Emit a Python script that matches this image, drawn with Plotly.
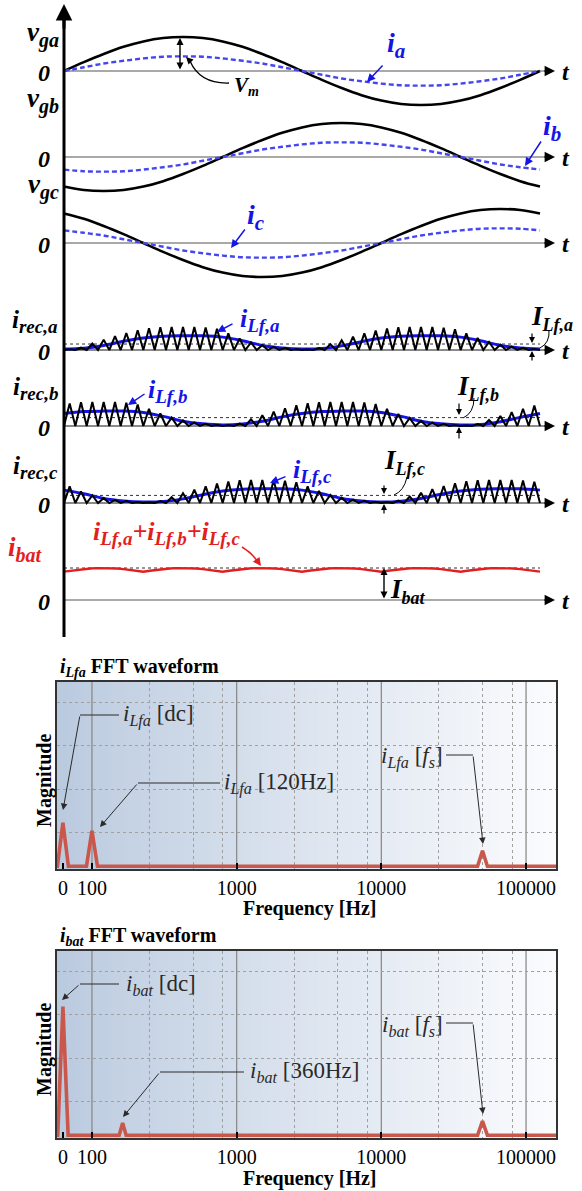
import math
import plotly.graph_objects as go

W, H = 582, 1191
SERIF = "Liberation Serif, Times New Roman, serif"

# ---------------- data ----------------
theta = list(range(0, 361, 15))          # electrical angle, degrees
vga = [0, 0.26, 0.5, 0.71, 0.87, 0.97, 1.0, 0.97, 0.87, 0.71, 0.5, 0.26, 0,
       -0.26, -0.5, -0.71, -0.87, -0.97, -1.0, -0.97, -0.87, -0.71, -0.5, -0.26, 0]
vgb = [-0.87, -0.97, -1.0, -0.97, -0.87, -0.71, -0.5, -0.26, 0, 0.26, 0.5, 0.71, 0.87,
       0.97, 1.0, 0.97, 0.87, 0.71, 0.5, 0.26, 0, -0.26, -0.5, -0.71, -0.87]
vgc = [0.87, 0.71, 0.5, 0.26, 0, -0.26, -0.5, -0.71, -0.87, -0.97, -1.0, -0.97, -0.87,
       -0.71, -0.5, -0.26, 0, 0.26, 0.5, 0.71, 0.87, 0.97, 1.0, 0.97, 0.87]
ia = [0, 0.11, 0.22, 0.30, 0.37, 0.42, 0.43, 0.42, 0.37, 0.30, 0.22, 0.11, 0,
      -0.11, -0.22, -0.30, -0.37, -0.42, -0.43, -0.42, -0.37, -0.30, -0.22, -0.11, 0]
ib = [-0.37, -0.42, -0.43, -0.42, -0.37, -0.30, -0.22, -0.11, 0, 0.11, 0.22, 0.30, 0.37,
      0.42, 0.43, 0.42, 0.37, 0.30, 0.22, 0.11, 0, -0.11, -0.22, -0.30, -0.37]
ic = [0.37, 0.30, 0.22, 0.11, 0, -0.11, -0.22, -0.30, -0.37, -0.42, -0.43, -0.42, -0.37,
      -0.30, -0.22, -0.11, 0, 0.11, 0.22, 0.30, 0.37, 0.42, 0.43, 0.42, 0.37]

# peak of each switching-period triangle of the rectifier currents (42 per line period)
irec_a_pk = [0.03, 0.10, 0.28, 0.45, 0.60, 0.74, 0.86, 0.95, 0.99, 1.0, 1.0, 1.0, 0.98, 0.92,
             0.72, 0.50, 0.33, 0.21, 0.14, 0.08, 0.03,
             0.02, 0.08, 0.25, 0.42, 0.58, 0.72, 0.85, 0.94, 0.99, 1.0, 1.0, 1.0, 0.97, 0.90,
             0.72, 0.52, 0.35, 0.23, 0.15, 0.09, 0.04]
irec_b_pk = [0.94, 0.99, 1.0, 1.0, 1.0, 0.97, 0.90, 0.72, 0.52, 0.35, 0.23, 0.15, 0.09, 0.04,
             0.03, 0.10, 0.28, 0.45, 0.60, 0.74, 0.86, 0.95, 0.99, 1.0, 1.0, 1.0, 0.98, 0.92,
             0.72, 0.50, 0.33, 0.21, 0.14, 0.08, 0.03,
             0.02, 0.08, 0.25, 0.42, 0.58, 0.72, 0.85]
irec_c_pk = [0.72, 0.50, 0.33, 0.21, 0.14, 0.08, 0.03,
             0.02, 0.08, 0.25, 0.42, 0.58, 0.72, 0.85, 0.94, 0.99, 1.0, 1.0, 1.0, 0.97, 0.90,
             0.72, 0.52, 0.35, 0.23, 0.15, 0.09, 0.04,
             0.03, 0.10, 0.28, 0.45, 0.60, 0.74, 0.86, 0.95, 0.99, 1.0, 1.0, 1.0, 0.98, 0.92]

# filtered inductor currents (same angle grid as theta)
ilf_a = [0.04, 0.08, 0.2, 0.38, 0.52, 0.6, 0.62, 0.62, 0.56, 0.4, 0.2, 0.09, 0.04,
         0.06, 0.18, 0.36, 0.52, 0.6, 0.62, 0.62, 0.56, 0.4, 0.2, 0.09, 0.04]
ilf_b = [0.52, 0.6, 0.62, 0.62, 0.56, 0.4, 0.2, 0.09, 0.04, 0.08, 0.2, 0.38, 0.52,
         0.6, 0.62, 0.62, 0.56, 0.4, 0.2, 0.09, 0.04, 0.06, 0.18, 0.36, 0.52]
ilf_c = [0.56, 0.4, 0.2, 0.09, 0.04, 0.06, 0.18, 0.36, 0.52, 0.6, 0.62, 0.62, 0.56,
         0.4, 0.2, 0.09, 0.04, 0.08, 0.2, 0.38, 0.52, 0.6, 0.62, 0.62, 0.56]
ilf_avg = [0.26, 0.35, 0.33]          # I_Lf,a  I_Lf,b  I_Lf,c

ibat_theta = list(range(0, 361, 5))
ibat = [0.885, 0.915, 0.943, 0.966, 0.985, 0.996, 1.0, 0.996, 0.985, 0.966, 0.943, 0.915,
        0.885, 0.915, 0.943, 0.966, 0.985, 0.996, 1.0, 0.996, 0.985, 0.966, 0.943, 0.915,
        0.885, 0.915, 0.943, 0.966, 0.985, 0.996, 1.0, 0.996, 0.985, 0.966, 0.943, 0.915,
        0.885, 0.915, 0.943, 0.966, 0.985, 0.996, 1.0, 0.996, 0.985, 0.966, 0.943, 0.915,
        0.885, 0.915, 0.943, 0.966, 0.985, 0.996, 1.0, 0.996, 0.985, 0.966, 0.943, 0.915,
        0.885, 0.915, 0.943, 0.966, 0.985, 0.996, 1.0, 0.996, 0.985, 0.966, 0.943, 0.915,
        0.885]
ibat_avg = 1.0

# FFT peaks (position on the log axis, normalised magnitude)
fft_lfa_freq = [63, 100, 50000]
fft_lfa_mag = [0.236, 0.193, 0.084]
fft_bat_freq = [63, 163, 50000]
fft_bat_mag = [0.698, 0.066, 0.077]
fft_tickvals = [63, 100, 1000, 10000, 100000]
fft_ticktext = ["0", "100", "1000", "10000", "100000"]
fft_minor_grid = [250, 500, 800, 2500, 5000, 8000, 25000, 50000, 80000]
fft_major_grid = [100, 1000, 10000, 100000]

# ---------------- helpers ----------------
PXDEG = 476 / 360.0          # pixels per electrical degree
X0 = 64                      # pixel x of t = 0


def px(x):
    return x / W


def py(y):
    return 1 - y / H


def yrange(p0, s):
    return [(p0 - H) / s, p0 / s]


def zigzag(peaks, T=360.0):
    d = T / len(peaks)
    xs, ys = [], []
    for k, p in enumerate(peaks):
        xs += [k * d, (k + 0.5) * d]
        ys += [0, p]
    xs.append(T)
    ys.append(0)
    return xs, ys


BLACK = "#000000"
BLUE_D = "#4646f0"
BLUE = "#1414e6"
RED = "#e31e1e"
FFT_RED = "#c9574b"

fig = go.Figure()

panels = {
    "y": (71, 34), "y2": (157, 34), "y3": (243, 34),
    "y4": (350, 23), "y5": (426, 24), "y6": (503, 23), "y7": (600, 32),
}

for ya, v, i in (("y", vga, ia), ("y2", vgb, ib), ("y3", vgc, ic)):
    fig.add_trace(go.Scatter(x=theta, y=v, xaxis="x", yaxis=ya, mode="lines",
                             line=dict(color=BLACK, width=2.6, shape="spline")))
    fig.add_trace(go.Scatter(x=theta, y=i, xaxis="x", yaxis=ya, mode="lines",
                             line=dict(color=BLUE_D, width=2.4, shape="spline", dash="5px,3px")))

for ya, pk, lf, lvl in (("y4", irec_a_pk, ilf_a, ilf_avg[0]),
                        ("y5", irec_b_pk, ilf_b, ilf_avg[1]),
                        ("y6", irec_c_pk, ilf_c, ilf_avg[2])):
    fig.add_trace(go.Scatter(x=[0, 360], y=[lvl, lvl], xaxis="x", yaxis=ya, mode="lines",
                             line=dict(color="#333333", width=1, dash="dot")))
    fig.add_trace(go.Scatter(x=theta, y=lf, xaxis="x", yaxis=ya, mode="lines",
                             line=dict(color=BLUE, width=3, shape="spline")))
    zx, zy = zigzag(pk)
    fig.add_trace(go.Scatter(x=zx, y=zy, xaxis="x", yaxis=ya, mode="lines",
                             line=dict(color=BLACK, width=2)))

fig.add_trace(go.Scatter(x=[0, 360], y=[ibat_avg, ibat_avg], xaxis="x", yaxis="y7", mode="lines",
                         line=dict(color="#333333", width=1, dash="dot")))
fig.add_trace(go.Scatter(x=ibat_theta, y=ibat, xaxis="x", yaxis="y7", mode="lines",
                         line=dict(color=RED, width=2.4)))


def spectrum(freqs, mags, halfw):
    xs, ys = [10 ** 1.70], [0]
    for f, m, w in zip(freqs, mags, halfw):
        xs += [f * 10 ** (-w), f, f * 10 ** w]
        ys += [0, m, 0]
    xs.append(10 ** 5.3)
    ys.append(0)
    return xs, ys


sx, sy = spectrum(fft_lfa_freq, fft_lfa_mag, [0.038, 0.038, 0.034])
fig.add_trace(go.Scatter(x=sx, y=sy, xaxis="x2", yaxis="y8", mode="lines",
                         line=dict(color=FFT_RED, width=3.6)))
sx, sy = spectrum(fft_bat_freq, fft_bat_mag, [0.036, 0.024, 0.034])
fig.add_trace(go.Scatter(x=sx, y=sy, xaxis="x3", yaxis="y9", mode="lines",
                         line=dict(color=FFT_RED, width=3.6)))

# ---------------- layout ----------------
layout = dict(
    width=W, height=H, autosize=False,
    margin=dict(l=0, r=0, t=0, b=0),
    paper_bgcolor="white", plot_bgcolor="rgba(0,0,0,0)",
    showlegend=False,
    xaxis=dict(domain=[0, 1], range=[-X0 / PXDEG, (W - X0) / PXDEG], visible=False, fixedrange=True),
)
for ya, (p0, s) in panels.items():
    key = "yaxis" if ya == "y" else "yaxis" + ya[1:]
    d = dict(range=yrange(p0, s), visible=False, anchor="x", fixedrange=True)
    if ya != "y":
        d["overlaying"] = "y"
    layout[key] = d

LOG_RANGE = [1.755, 5.207]
fft_boxes = {"2": ("8", 682, 869), "3": ("9", 951, 1138)}
for xi, (yi, top, bot) in fft_boxes.items():
    layout["xaxis" + xi] = dict(
        type="log", domain=[px(56.5), px(556)], range=LOG_RANGE, anchor="y" + yi,
        tickvals=fft_tickvals, ticktext=fft_ticktext, ticks="inside", ticklen=6,
        tickwidth=2, tickcolor="black", showgrid=False, zeroline=False,
        tickfont=dict(family=SERIF, size=20, color="black"),
        showline=True, mirror=True, linecolor="#333333", linewidth=2,
        minor=dict(tickvals=fft_minor_grid, showgrid=True, gridcolor="#a0a0a0",
                   griddash="dot", gridwidth=1, ticks=""),
        fixedrange=True,
    )
    layout["yaxis" + yi] = dict(
        domain=[py(bot), py(top)], range=[-0.015, 1.0], anchor="x" + xi,
        tickvals=[0.184, 0.419, 0.654, 0.889], showticklabels=False, ticks="",
        showgrid=True, gridcolor="#a0a0a0", griddash="dot", gridwidth=1,
        zeroline=False, showline=True, mirror=True, linecolor="#333333", linewidth=2,
        fixedrange=True,
    )

shapes = []
annotations = []

C0 = (186, 202, 223)
C1 = (251, 252, 254)
NSTRIP = 90
for xi, (yi, top, bot) in fft_boxes.items():
    for k in range(NSTRIP):
        t = ((k + 0.5) / NSTRIP) ** 0.9
        col = "rgb(%d,%d,%d)" % tuple(int(C0[j] + (C1[j] - C0[j]) * t) for j in range(3))
        shapes.append(dict(type="rect", xref="x%s domain" % xi, yref="y%s domain" % yi,
                           x0=k / NSTRIP, x1=(k + 1) / NSTRIP + 0.003, y0=0, y1=1,
                           fillcolor=col, line=dict(width=0), layer="below"))
    for f in fft_major_grid:
        fr = (math.log10(f) - LOG_RANGE[0]) / (LOG_RANGE[1] - LOG_RANGE[0])
        shapes.append(dict(type="line", xref="x%s domain" % xi, yref="y%s domain" % yi,
                           x0=fr, x1=fr, y0=0, y1=1, line=dict(color="#8c8c8c", width=1.3),
                           layer="below"))


def line(x0, y0, x1, y1, color="black", width=1, dash=None, layer="above"):
    ln = dict(color=color, width=width)
    if dash:
        ln["dash"] = dash
    shapes.append(dict(type="line", xref="paper", yref="paper", x0=px(x0), y0=py(y0),
                       x1=px(x1), y1=py(y1), line=ln, layer=layer))


def curve(x0, y0, cx, cy, x1, y1, color="black", width=1):
    path = "M %f,%f Q %f,%f %f,%f" % (px(x0), py(y0), px(cx), py(cy), px(x1), py(y1))
    shapes.append(dict(type="path", xref="paper", yref="paper", path=path,
                       line=dict(color=color, width=width)))


def arrow(x0, y0, x1, y1, color="black", width=1.2, head=2, size=1.0, side="end"):
    annotations.append(dict(x=px(x1), y=py(y1), xref="paper", yref="paper",
                            ax=x0 - x1, ay=y0 - y1, axref="pixel", ayref="pixel",
                            text="", showarrow=True, arrowhead=head, arrowsize=size,
                            arrowwidth=width, arrowcolor=color, arrowside=side,
                            standoff=0, startstandoff=0))


def text(x, y, s, size=22, color="black", xanchor="center", yanchor="middle", angle=0):
    annotations.append(dict(x=px(x), y=py(y), xref="paper", yref="paper", text=s,
                            showarrow=False, xanchor=xanchor, yanchor=yanchor,
                            textangle=angle,
                            font=dict(family=SERIF, size=size, color=color)))


def bi(main, sub=None, subsize=19):
    s = "<b><i>" + main
    if sub is not None:
        s += "<sub><span style='font-size:%dpx'>%s</span></sub>" % (subsize, sub)
    return s + "</i></b>"


# main vertical axis
line(X0, 637, X0, 14, width=3)
arrow(X0, 30, X0, 4, width=3, head=2, size=1.1)

t_end = 551
for name, (p0, s) in panels.items():
    thin = name in ("y", "y2", "y3", "y7")
    line(X0, p0, t_end, p0, color="#555555" if thin else "#8a8a8a", width=1.2 if thin else 2,
         layer="below")
    arrow(t_end - 8, p0, t_end + 4, p0, width=1.3, head=2, size=1.6)
    text(566, p0 + 1, bi("t"), size=24)
    text(44, p0 + 2, bi("0"), size=24)

# panel labels
text(43, 34, bi("v", "ga", 20), size=27)
text(43, 101, bi("v", "gb", 20), size=27)
text(43, 187, bi("v", "gc", 20), size=27)
text(35, 322, bi("i", "rec,a", 19), size=25)
text(35, 389, bi("i", "rec,b", 19), size=25)
text(35, 467, bi("i", "rec,c", 19), size=25)
text(25, 549, bi("i", "bat", 20), size=27, color=RED)

# blue current labels
text(396, 45, bi("i", "a", 21), size=28, color=BLUE)
arrow(384, 64, 367, 82, color=BLUE, width=1.5, head=2, size=1.1)
text(552, 128, bi("i", "b", 21), size=28, color=BLUE)
arrow(542, 140, 525, 166, color=BLUE, width=1.5, head=2, size=1.1)
text(256, 217, bi("i", "c", 21), size=28, color=BLUE)
arrow(246, 228, 231, 248, color=BLUE, width=1.5, head=2, size=1.1)

# V_m
arrow(180, 71, 180, 38, width=1.4, head=2, size=1.0, side="end+start")
curve(229, 83, 200, 84, 190, 61, width=1.3)
arrow(191, 62, 186, 57, width=1.3, head=2, size=1.1)
text(246, 86, bi("V", "m", 14), size=21)

# filtered current labels
text(260, 320, bi("i", "Lf,a", 19), size=26, color=BLUE)
arrow(234, 323, 217, 332, color=BLUE, width=1.5, head=2, size=1.1)
text(168, 391, bi("i", "Lf,b", 19), size=26, color=BLUE)
arrow(146, 393, 128, 405, color=BLUE, width=1.5, head=2, size=1.1)
text(312, 471, bi("i", "Lf,c", 19), size=26, color=BLUE)
arrow(287, 476, 270, 483, color=BLUE, width=1.5, head=2, size=1.1)

# I_Lf markers
text(529, 318, bi("I", "Lf,a", 18), size=27, xanchor="left")
arrow(532, 332, 532, 343, width=1.2, head=2, size=1.0)
arrow(532, 362, 532, 351, width=1.2, head=2, size=1.0)
curve(549, 330, 550, 343, 540, 348, width=1)

text(455, 388, bi("I", "Lf,b", 18), size=27, xanchor="left")
arrow(459, 402, 459, 415, width=1.2, head=2, size=1.0)
arrow(459, 440, 459, 427, width=1.2, head=2, size=1.0)
curve(474, 398, 474, 413, 463, 418, width=1)

text(382, 462, bi("I", "Lf,c", 18), size=27, xanchor="left")
arrow(384, 484, 384, 494, width=1.2, head=2, size=1.0)
arrow(384, 515, 384, 504, width=1.2, head=2, size=1.0)
curve(407, 477, 404, 491, 394, 495, width=1)

# battery
text(166, 533, bi("i", "Lf,a", 19) + bi("+i", "Lf,b", 19) + bi("+i", "Lf,c", 19), size=26, color=RED)
curve(242, 547, 252, 553, 258, 562, color=RED, width=1.5)
arrow(256, 559, 261, 566, color=RED, width=1.5, head=2, size=1.1)
arrow(384, 600, 384, 568, width=1.4, head=2, size=1.0, side="end+start")
text(388, 591, bi("I", "bat", 18), size=27, xanchor="left")

# ---------------- FFT texts ----------------
text(58, 667, "<b><i>i<sub>Lfa</sub></i> FFT waveform</b>", size=20, xanchor="left")
text(58, 936, "<b><i>i<sub>bat</sub></i> FFT waveform</b>", size=20, xanchor="left")
text(310, 908, "<b>Frequency [Hz]</b>", size=20)
text(310, 1178, "<b>Frequency [Hz]</b>", size=20)
text(44, 781, "<b>Magnitude</b>", size=20, angle=-90)
text(44, 1050, "<b>Magnitude</b>", size=20, angle=-90)

GR = "#2a2a2a"
text(121, 715, "<i>i<sub>Lfa</sub></i> [dc]", size=23, color=GR, xanchor="left")
line(80, 715, 119, 715, color=GR)
arrow(80, 715, 63, 810, color=GR, width=1, head=2, size=1.3)
text(222, 783, "<i>i<sub>Lfa</sub></i> [120Hz]", size=23, color=GR, xanchor="left")
line(138, 783, 220, 783, color=GR)
arrow(138, 783, 100, 827, color=GR, width=1, head=2, size=1.3)
text(445, 757, "<i>i<sub>Lfa</sub></i> [<i>f<sub>s</sub></i>]", size=23, color=GR, xanchor="right")
line(446, 755, 473, 755, color=GR)
arrow(473, 755, 483, 844, color=GR, width=1, head=2, size=1.3)

text(124, 985, "<i>i<sub>bat</sub></i> [dc]", size=23, color=GR, xanchor="left")
line(80, 984, 119, 984, color=GR)
arrow(80, 984, 62, 1000, color=GR, width=1, head=2, size=1.3)
text(248, 1072, "<i>i<sub>bat</sub></i> [360Hz]", size=23, color=GR, xanchor="left")
line(160, 1072, 244, 1072, color=GR)
arrow(160, 1072, 123, 1117, color=GR, width=1, head=2, size=1.3)
text(445, 1026, "<i>i<sub>bat</sub></i> [<i>f<sub>s</sub></i>]", size=23, color=GR, xanchor="right")
line(446, 1023, 473, 1023, color=GR)
arrow(473, 1023, 483, 1114, color=GR, width=1, head=2, size=1.3)

layout["shapes"] = shapes
layout["annotations"] = annotations
fig.update_layout(**layout)

fig.write_html("out.html", config={"displayModeBar": False, "staticPlot": True},
               post_script="document.body.style.margin='0';document.body.style.overflow='hidden';")
